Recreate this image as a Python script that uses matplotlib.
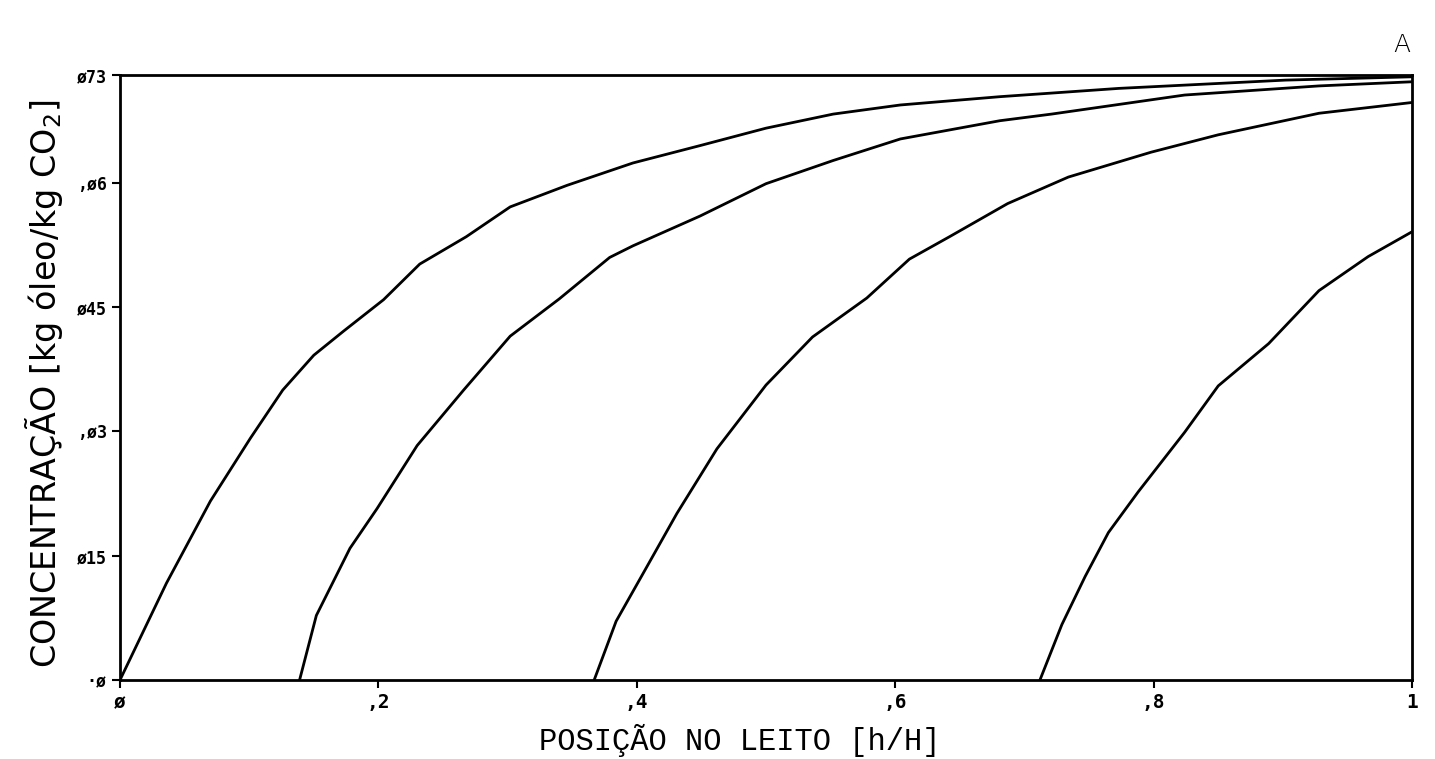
import numpy as np
import matplotlib.pyplot as plt

# position in bed (h/H) and oil concentration for four profiles
x1 = [0, 0.036, 0.070, 0.101, 0.126, 0.150, 0.173, 0.204, 0.232, 0.268, 0.302,
      0.346, 0.397, 0.449, 0.500, 0.552, 0.604, 0.681, 0.773, 0.902, 1.0]
c1 = [0, 0.00117, 0.00216, 0.00292, 0.00350, 0.00392, 0.00421, 0.00459, 0.00502,
      0.00535, 0.00571, 0.00597, 0.00624, 0.00645, 0.00666, 0.00683, 0.00694,
      0.00704, 0.00714, 0.00724, 0.00728]

x2 = [0.139, 0.152, 0.178, 0.199, 0.230, 0.266, 0.302, 0.340, 0.379, 0.397,
      0.449, 0.500, 0.552, 0.604, 0.681, 0.721, 0.824, 0.928, 1.0]
c2 = [0, 0.00078, 0.00159, 0.00207, 0.00283, 0.00350, 0.00415, 0.00460, 0.00510,
      0.00524, 0.00560, 0.00599, 0.00627, 0.00653, 0.00675, 0.00683, 0.00706,
      0.00717, 0.00722]

x3 = [0.367, 0.384, 0.405, 0.431, 0.462, 0.500, 0.536, 0.578, 0.611, 0.642,
      0.687, 0.734, 0.798, 0.850, 0.928, 1.0]
c3 = [0, 0.00071, 0.00129, 0.00201, 0.00279, 0.00356, 0.00414, 0.00461, 0.00508,
      0.00535, 0.00575, 0.00607, 0.00637, 0.00658, 0.00684, 0.00697]

x4 = [0.712, 0.729, 0.747, 0.765, 0.788, 0.824, 0.850, 0.889, 0.928, 0.966, 1.0]
c4 = [0, 0.00067, 0.00125, 0.00178, 0.00227, 0.00299, 0.00355, 0.00406, 0.0047,
      0.00511, 0.00541]

xticks = [0, 0.2, 0.4, 0.6, 0.8, 1.0]
xlabels = ['ø', ',2', ',4', ',6', ',8', '1']
yticks = [0, 0.0015, 0.003, 0.0045, 0.006, 0.0073]
ylabels = ['·ø', 'ø15', ',ø3', 'ø45', ',ø6', 'ø73']

fig = plt.figure(figsize=(14.35, 7.59), dpi=100)
ax = fig.add_axes([0.0836, 0.104, 0.9004, 0.797])

for xs, cs in [(x1, c1), (x2, c2), (x3, c3), (x4, c4)]:
    ax.plot(xs, cs, color='black', lw=2.0)

ax.set_xlim(0, 1)
ax.set_ylim(0, 0.0073)
for s in ax.spines.values():
    s.set_linewidth(2)

ax.set_xticks(xticks)
ax.set_xticklabels(xlabels, family='DejaVu Sans Mono', fontsize=14,
                   fontweight='bold')
ax.set_yticks(yticks)
ax.set_yticklabels(ylabels, family='DejaVu Sans Mono', fontsize=12,
                   fontweight='bold')
ax.tick_params(axis='both', direction='out', length=6, width=1.5)

ax.set_xlabel('POSIÇÃO NO LEITO [h/H]', family='Liberation Mono',
              fontsize=22, va='center')
ax.xaxis.set_label_coords(0.48, -0.10)
ax.set_ylabel('CONCENTRAÇÃO [kg óleo/kg CO$_2$]', family='DejaVu Sans',
              fontsize=24, va='center')
ax.yaxis.set_label_coords(-0.059, 0.49)

fig.text(0.977, 0.925, 'A', fontsize=18, family='DejaVu Sans',
         fontweight='light', ha='center', va='bottom')

fig.savefig('out.png', dpi=100, facecolor='white')
